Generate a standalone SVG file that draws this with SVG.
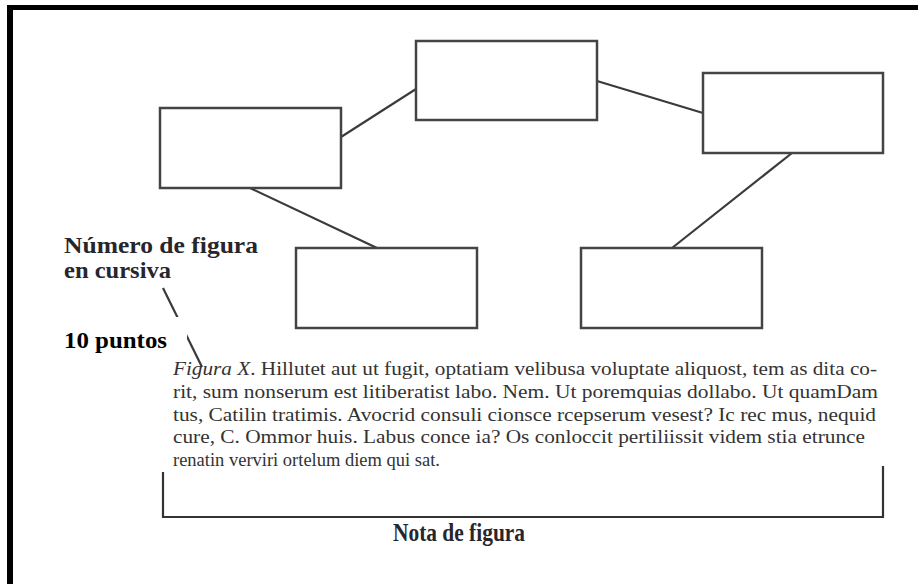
<svg xmlns="http://www.w3.org/2000/svg" width="918" height="584" viewBox="0 0 918 584">
<style>
.box{fill:#fff;stroke:#444;stroke-width:2.5}
.con{stroke:#3a3a3a;stroke-width:2.2;fill:none}
.lbl{font-family:"Liberation Serif",serif;font-weight:bold;fill:#26262c}
.cap{font-family:"Liberation Serif",serif;font-size:18px;fill:#333}
</style>
<rect width="918" height="584" fill="#fff"/>
<rect x="7" y="5" width="911" height="5" fill="#000"/>
<rect x="7" y="5" width="6" height="579" fill="#000"/>
<g id="connectors">
<line class="con" x1="341" y1="137" x2="416" y2="89"/>
<line class="con" x1="597" y1="81" x2="703" y2="113"/>
<line class="con" x1="792" y1="153" x2="672" y2="248"/>
<line class="con" x1="250" y1="188" x2="377" y2="248"/>
</g>
<g id="n1"><rect class="box" x="160" y="108" width="181" height="80"/></g>
<g id="n2"><rect class="box" x="416" y="41" width="181" height="79"/></g>
<g id="n3"><rect class="box" x="703" y="73" width="180" height="80"/></g>
<g id="n4"><rect class="box" x="296" y="248" width="181" height="80"/></g>
<g id="n5"><rect class="box" x="581" y="248" width="181" height="80"/></g>
<g id="label-numero">
<text class="lbl" x="64" y="253" font-size="23.5" textLength="194" lengthAdjust="spacingAndGlyphs">Número de figura</text>
<text class="lbl" x="64" y="278" font-size="23.5" textLength="107" lengthAdjust="spacingAndGlyphs">en cursiva</text>
<line class="con" x1="163" y1="288" x2="202" y2="367" stroke-width="2"/>
<rect x="60" y="317" width="127" height="36" fill="#fff"/>
<text x="64" y="348" font-family="Liberation Serif,serif" font-weight="bold" font-size="24" fill="#000" textLength="103" lengthAdjust="spacingAndGlyphs">10 puntos</text>
</g>
<g id="caption">
<text class="cap" x="173" y="375" textLength="704" lengthAdjust="spacingAndGlyphs"><tspan font-style="italic">Figura X</tspan>. Hillutet aut ut fugit, optatiam velibusa voluptate aliquost, tem as dita co-</text>
<text class="cap" x="173" y="398" textLength="705" lengthAdjust="spacingAndGlyphs">rit, sum nonserum est litiberatist labo. Nem. Ut poremquias dollabo. Ut quamDam</text>
<text class="cap" x="173" y="421" textLength="703" lengthAdjust="spacingAndGlyphs">tus, Catilin tratimis. Avocrid consuli cionsce rcepserum vesest? Ic rec mus, nequid</text>
<text class="cap" x="173" y="443" textLength="692" lengthAdjust="spacingAndGlyphs">cure, C. Ommor huis. Labus conce ia? Os conloccit pertiliissit videm stia etrunce</text>
<text class="cap" x="173" y="466" textLength="267" lengthAdjust="spacingAndGlyphs">renatin verviri ortelum diem qui sat.</text>
</g>
<g id="nota">
<path d="M163 472 V517 H883 V466" fill="none" stroke="#333" stroke-width="2.2"/>
<text class="lbl" x="459" y="541" font-size="25" text-anchor="middle" textLength="132" lengthAdjust="spacingAndGlyphs">Nota de figura</text>
</g>
</svg>
